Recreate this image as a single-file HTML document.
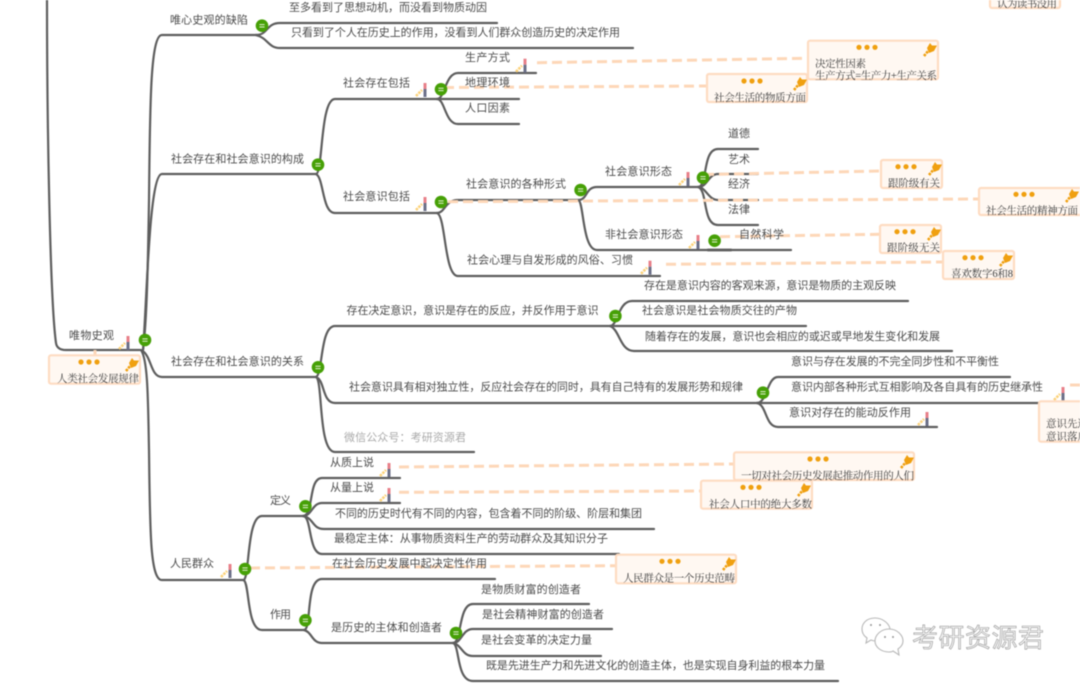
<!DOCTYPE html>
<html lang="zh"><head><meta charset="utf-8"><title>人类社会发展规律</title>
<style>
html,body{margin:0;padding:0;background:#fff;width:1080px;height:686px;overflow:hidden}
svg{display:block;filter:blur(.4px)}
.l{font:11px "Liberation Sans","Noto Sans CJK SC",sans-serif;fill:#4c4c4c}
.n{font:10.5px "Liberation Serif","Noto Serif CJK SC",serif;fill:#3c3c3c}
.b{fill:none;stroke:#5e5e5e;stroke-width:2.2;stroke-linecap:round}
.d{fill:none;stroke:#fdd7b8;stroke-width:3;stroke-dasharray:10 5}
.r{fill:#fff8f2;stroke:#fedcc2;stroke-width:2.2}
</style></head><body>
<svg xmlns="http://www.w3.org/2000/svg" width="1080" height="686" viewBox="0 0 1080 686">
<defs>
<symbol id="g" overflow="visible"><circle r="6.3" fill="#46a006"/><path d="M-2.6,-1.1H2.6M-2.6,1.3H2.6" stroke="#e4f0d4" stroke-width="1"/></symbol>
<symbol id="f" overflow="visible"><path d="M-7,6L-1,0" stroke="#fcd27a" stroke-width="2.6" stroke-dasharray="2.5 1"/><path d="M2,-7V-1" stroke="#e8808a" stroke-width="3"/><path d="M2,-1V7" stroke="#6c7088" stroke-width="3"/></symbol>
<symbol id="p" overflow="visible"><path d="M-6,7L-1,1" stroke="#f0a010" stroke-width="2.6" stroke-dasharray="2.5 1"/><path d="M-3,-1L0,-6L2,-3.5L7,-3.5L4,2L-1,4Z" fill="#f0a010"/></symbol>
<symbol id="o" overflow="visible"><circle cx="-8" r="2.6" fill="#f0a010"/><circle r="2.6" fill="#f0a010"/><circle cx="8" r="2.6" fill="#f0a010"/></symbol>
</defs>

<!-- branches -->
<g class="b">
<path d="M47,0C47,120 50,300 56,343Q57,350 66,350L140,350"/>
<path d="M143,350C147,320 148,260 149,200C150,110 150,35 162,35L258,35"/>
<path d="M143,350C147,300 149,174 162,174L316,174"/>
<path d="M141,350C152,355 150,377 162,377L316,377"/>
<path d="M141,350C148,360 148,400 149,450C150,530 150,580 162,580L243,580"/>
<path d="M256,35C268,35 266,23 280,23L497,23"/>
<path d="M256,35C268,38 268,48 280,48L633,48"/>
<path d="M316,174C323,174 320,99 335,99L437,99"/>
<path d="M316,174C324,178 322,213 335,213L437,213"/>
<path d="M437,99H519"/>
<path d="M437,99C445,99 445,73 458,73L536,73"/>
<path d="M437,99C445,99 445,124 458,124L519,124"/>
<path d="M437,213C445,213 445,200 458,200L578,200"/>
<path d="M437,213C446,216 444,276 458,276L660,276"/>
<path d="M578,200C588,200 585,187 597,187L698,187"/>
<path d="M578,200C584,200 582,250 597,250L791,250"/>
<path d="M708,250H731" stroke-width="2.8"/>
<path d="M698,187C708,187 702,149 718,149L758,149"/>
<path d="M698,187C708,187 708,174 718,174L758,174"/>
<path d="M698,187C706,187 708,200 718,200L758,200"/>
<path d="M698,187C708,190 702,225 718,225L758,225"/>
<path d="M316,377C323,374 320,326 335,326L610,326"/>
<path d="M610,326C618,326 618,301 632,301L908,301"/>
<path d="M610,326H806"/>
<path d="M610,326C620,330 620,351 634,351L952,351"/>
<path d="M316,377C325,380 322,403 335,403L757,403"/>
<path d="M757,403C767,403 767,377 778,377L1010,377"/>
<path d="M757,403H1039"/>
<path d="M757,403C767,405 765,427 778,427L937,427"/>
<path d="M316,377C323,380 318,452 335,452L474,452"/>
<path d="M243,580C250,582 246,516 262,516L303,516"/>
<path d="M243,580C250,580 246,630 262,630L304,630"/>
<path d="M303,516C314,516 308,478 322,478L400,478"/>
<path d="M303,516C312,516 312,503 322,503L400,503"/>
<path d="M303,516C314,518 312,529 324,529L654,529"/>
<path d="M303,516C312,516 308,554 322,554L619,554"/>
<path d="M304,630C312,630 305,579 322,579L495,579"/>
<path d="M304,630C312,632 312,643 322,643L453,643"/>
<path d="M453,643C462,643 458,604 473,604L589,604"/>
<path d="M453,643C462,643 462,629 473,629L612,629"/>
<path d="M453,643C462,645 462,656 473,656L601,656"/>
<path d="M453,643C460,645 456,681 473,681L838,681"/>
</g>

<!-- dashed links -->
<g class="d">
<path d="M537,62.7L808,58.3"/>
<path d="M444,87.5L707,86"/>
<path d="M704,174.5L881,171"/>
<path d="M448,201.7L979,199"/>
<path d="M720,236.7L880,234.3"/>
<path d="M666,264.3L943,262"/>
<path d="M399,467L734,464"/>
<path d="M399,492.3L701,491"/>
<path d="M250,568L616,565.7"/>
<path d="M1070,385H1080"/>
<path d="M95,350V355"/>
</g>

<!-- labels -->
<g class="l">
<text x="170" y="23.5" textLength="78">唯心史观的缺陷</text>
<text x="289" y="11" textLength="198">至多看到了思想动机，而没看到物质动因</text>
<text x="291" y="36" textLength="329">只看到了个人在历史上的作用，没看到人们群众创造历史的决定作用</text>
<text x="465" y="61" textLength="45">生产方式</text>
<text x="465" y="86" textLength="45">地理环境</text>
<text x="465" y="111.5" textLength="45">人口因素</text>
<text x="343" y="86.5" textLength="67">社会存在包括</text>
<text x="171" y="162.5" textLength="133">社会存在和社会意识的构成</text>
<text x="343" y="200" textLength="67">社会意识包括</text>
<text x="466" y="187.5" textLength="100">社会意识的各种形式</text>
<text x="467" y="263.5" textLength="166">社会心理与自发形成的风俗、习惯</text>
<text x="605" y="175" textLength="67">社会意识形态</text>
<text x="605" y="238" textLength="78">非社会意识形态</text>
<text x="728" y="137" textLength="22">道德</text>
<text x="728" y="163" textLength="22">艺术</text>
<text x="728" y="187.5" textLength="22">经济</text>
<text x="728" y="213" textLength="22">法律</text>
<text x="739" y="238" textLength="45">自然科学</text>
<text x="644" y="289" textLength="252">存在是意识内容的客观来源，意识是物质的主观反映</text>
<text x="642" y="314" textLength="155">社会意识是社会物质交往的产物</text>
<text x="645" y="340" textLength="295">随着存在的发展，意识也会相应的或迟或早地发生变化和发展</text>
<text x="346.5" y="314" textLength="252">存在决定意识，意识是存在的反应，并反作用于意识</text>
<text x="69" y="339" textLength="45">唯物史观</text>
<text x="171" y="365" textLength="133">社会存在和社会意识的关系</text>
<text x="349" y="390.5" textLength="394">社会意识具有相对独立性，反应社会存在的同时，具有自己特有的发展形势和规律</text>
<text x="344" y="441" textLength="122" style="fill:#aaa">微信公众号：考研资源君</text>
<text x="791" y="365" textLength="208">意识与存在发展的不完全同步性和不平衡性</text>
<text x="791" y="390.5" textLength="252">意识内部各种形式互相影响及各自具有的历史继承性</text>
<text x="789" y="416" textLength="122">意识对存在的能动反作用</text>
<text x="330" y="466" textLength="44">从质上说</text>
<text x="330" y="491" textLength="44">从量上说</text>
<text x="270" y="504" textLength="21">定义</text>
<text x="335" y="517" textLength="307">不同的历史时代有不同的内容，包含着不同的阶级、阶层和集团</text>
<text x="334" y="542" textLength="274">最稳定主体：从事物质资料生产的劳动群众及其知识分子</text>
<text x="170" y="567" textLength="44">人民群众</text>
<text x="332" y="567" textLength="155">在社会历史发展中起决定性作用</text>
<text x="270" y="618" textLength="21">作用</text>
<text x="481" y="593" textLength="100">是物质财富的创造者</text>
<text x="482" y="618" textLength="122">是社会精神财富的创造者</text>
<text x="481" y="643.5" textLength="111">是社会变革的决定力量</text>
<text x="486" y="669" textLength="339">既是先进生产力和先进文化的创造主体，也是实现自身利益的根本力量</text>
<text x="331" y="631" textLength="111">是历史的主体和创造者</text>
</g>

<!-- green collapse markers -->
<use href="#g" x="262" y="25.7"/><use href="#g" x="318" y="164.7"/><use href="#g" x="441" y="89.3"/>
<use href="#g" x="441" y="202"/><use href="#g" x="580.6" y="190"/><use href="#g" x="703" y="177.7"/>
<use href="#g" x="714.6" y="240.7"/><use href="#g" x="615.4" y="316"/><use href="#g" x="318" y="367.3"/>
<use href="#g" x="145" y="340"/><use href="#g" x="305.4" y="506.3"/><use href="#g" x="305.4" y="620.3"/>
<use href="#g" x="245" y="569"/><use href="#g" x="456" y="633"/><use href="#g" x="763" y="392.7"/>

<!-- small icons -->
<use href="#f" x="423" y="90"/><use href="#f" x="423" y="204"/><use href="#f" x="523" y="65.7"/>
<use href="#f" x="686" y="179"/><use href="#f" x="696" y="242"/><use href="#f" x="648" y="267.7"/>
<use href="#f" x="387" y="470"/><use href="#f" x="387" y="495"/><use href="#f" x="228" y="571"/>
<use href="#f" x="1061" y="394"/><use href="#f" x="925" y="419"/><use href="#f" x="126" y="343"/>

<!-- notes -->
<g class="r">
<rect x="990" y="-20" width="70" height="28" rx="2"/>
<rect x="808" y="40.7" width="130" height="38.6" rx="2"/>
<rect x="707" y="74" width="100" height="28" rx="2"/>
<rect x="881" y="160" width="61" height="28" rx="2"/>
<rect x="979" y="188" width="103" height="27" rx="2"/>
<rect x="880" y="225" width="61" height="28" rx="2"/>
<rect x="943" y="251" width="71" height="28" rx="2"/>
<rect x="49" y="355.3" width="91" height="28.4" rx="2"/>
<rect x="1039" y="401.3" width="45" height="40.4" rx="2"/>
<rect x="734" y="452.3" width="180" height="27.7" rx="2"/>
<rect x="701" y="480.7" width="111" height="28" rx="2"/>
<rect x="616" y="554.7" width="120" height="28.6" rx="2"/>
</g>
<use href="#o" x="867" y="47.3"/><use href="#p" x="930" y="49"/>
<use href="#o" x="752" y="81"/><use href="#p" x="800" y="83"/>
<use href="#o" x="906" y="166.7"/><use href="#p" x="935" y="168"/>
<use href="#o" x="1024" y="194.3"/><use href="#p" x="1072" y="195"/>
<use href="#o" x="905" y="231.7"/><use href="#p" x="934" y="233"/>
<use href="#o" x="973" y="257.7"/><use href="#p" x="1006" y="259"/>
<use href="#o" x="89" y="362"/><use href="#p" x="132" y="364"/>
<use href="#o" x="818" y="459"/><use href="#p" x="907" y="461"/>
<use href="#o" x="751" y="487.3"/><use href="#p" x="804" y="489"/>
<use href="#o" x="670" y="561.3"/><use href="#p" x="729" y="563"/>
<g class="n">
<text x="997" y="7" textLength="60">认为读书没用</text>
<text x="815" y="67" textLength="51">决定性因素</text>
<text x="815" y="79" textLength="122">生产方式=生产力+生产关系</text>
<text x="714" y="101" textLength="92">社会生活的物质方面</text>
<text x="888" y="186.5" textLength="52">跟阶级有关</text>
<text x="986" y="214" textLength="92">社会生活的精神方面</text>
<text x="887" y="251" textLength="53">跟阶级无关</text>
<text x="951" y="277" textLength="62">喜欢数字6和8</text>
<text x="57" y="382" textLength="82">人类社会发展规律</text>
<text x="1046" y="427">意识先进</text>
<text x="1046" y="440">意识落后</text>
<text x="741" y="479" textLength="173">一切对社会历史发展起推动作用的人们</text>
<text x="709" y="507.5" textLength="103">社会人口中的绝大多数</text>
<text x="623" y="581.5" textLength="112">人民群众是一个历史范畴</text>
</g>

<!-- watermark -->
<g fill="#fff" stroke="#b8b8b8" stroke-width="1.1">
<path d="M875,618c-8,0-13,5-13,11c0,4 2,7 5,9l-1,5l5,-3c2,1 3,1 5,1c8,0 14,-5 14,-11s-7,-12 -15,-12z"/>
<path d="M889,629c-8,0-14,6-14,12s6,11 14,11c2,0 3,0 4,-1l6,4l-1,-6c3,-2 5,-5 5,-8c0,-6-6,-12-14,-12z"/>
</g>
<g fill="#999"><circle cx="871" cy="625" r="1"/><circle cx="880" cy="625" r="1"/><circle cx="885" cy="637" r="1"/><circle cx="893" cy="637" r="1"/></g>
<text x="912" y="647" textLength="132" style="font:26px 'Liberation Sans','Noto Sans CJK SC',sans-serif;fill:#f2f2f2;stroke:#9a9a9a;stroke-width:.6">考研资源君</text>
</svg>
</body></html>
